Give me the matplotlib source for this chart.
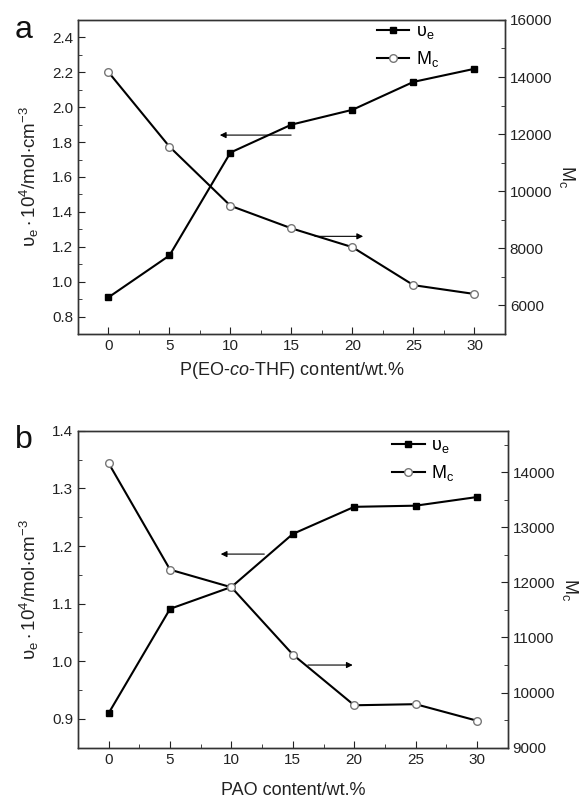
import numpy as np
import matplotlib
matplotlib.use('Agg')
import matplotlib.pyplot as plt
from matplotlib.ticker import MultipleLocator

plt.rcParams['font.family'] = ['Liberation Sans', 'DejaVu Sans']
plt.rcParams['mathtext.fontset'] = 'custom'
plt.rcParams['mathtext.rm'] = 'Liberation Sans'
plt.rcParams['mathtext.it'] = 'Liberation Sans:italic'
plt.rcParams['mathtext.default'] = 'regular'

# Data panel a: P(EO-co-THF) content
content = [0, 5, 10, 15, 20, 25, 30]
ve_a = [0.91, 1.15, 1.74, 1.90, 1.985, 2.145, 2.22]
mc_a = [14170, 11560, 9490, 8700, 8040, 6710, 6400]

# Data panel b: PAO content
ve_b = [0.91, 1.091, 1.129, 1.221, 1.268, 1.270, 1.285]
mc_b = [14160, 12230, 11910, 10690, 9770, 9790, 9490]

# arrows (start x, end x, y on own axis)
arrow_left_a = (15.2, 8.9, 1.84)
arrow_right_a = (16.7, 21.1, 8420)
arrow_left_b = (12.9, 8.9, 1.186)
arrow_right_b = (16.0, 20.1, 10500)

ylabel_left = r'$\upsilon_e\cdot10^4$/mol$\cdot$cm$^{-3}$'
ylabel_right = r'M$_c$'

fig = plt.figure(figsize=(5.85, 7.98), dpi=100)

def style(ax):
    ax.tick_params(direction='in', which='both', labelsize=11, colors='#222')
    ax.tick_params(which='major', length=5)
    ax.tick_params(which='minor', length=3)
    for s in ax.spines.values():
        s.set_linewidth(1.0)
        s.set_color('#333')

def panel(rect, ve, mc, xlabel, xpad, ylim_l, ylim_r, yl_major, yr_major, arrows,
          legend_anchor, letter, letter_y):
    ax = fig.add_axes(rect)
    ax2 = ax.twinx()
    l1, = ax.plot(content, ve, '-s', color='black', lw=1.5, ms=5, label=r'$\upsilon_e$', zorder=3)
    l2, = ax2.plot(content, mc, '-o', color='black', lw=1.5, ms=5.5, mfc='white',
                   mec='#777', mew=1.0, label=ylabel_right, zorder=3)
    ax.set_xlim(-2.5, 32.5)
    ax.set_ylim(*ylim_l)
    ax2.set_ylim(*ylim_r)
    ax.xaxis.set_major_locator(MultipleLocator(5))
    ax.xaxis.set_minor_locator(MultipleLocator(2.5))
    ax.yaxis.set_major_locator(MultipleLocator(yl_major))
    ax.yaxis.set_minor_locator(MultipleLocator(yl_major / 2))
    ax2.yaxis.set_major_locator(MultipleLocator(yr_major))
    ax2.yaxis.set_minor_locator(MultipleLocator(yr_major / 2))
    style(ax)
    style(ax2)
    ax.set_xlabel(xlabel, fontsize=13, color='#222', labelpad=xpad)
    ax.set_ylabel(ylabel_left, fontsize=13.5, color='#222', labelpad=8)
    ax2.set_ylabel(ylabel_right, fontsize=13, color='#222', rotation=270, labelpad=18)
    (x0, x1, y), (u0, u1, v) = arrows
    ax.annotate('', xy=(x1, y), xytext=(x0, y),
                arrowprops=dict(arrowstyle='-|>', color='black', lw=0.8, mutation_scale=9))
    ax2.annotate('', xy=(u1, v), xytext=(u0, v),
                 arrowprops=dict(arrowstyle='-|>', color='black', lw=0.8, mutation_scale=9))
    ax2.legend([l1, l2], [r'$\upsilon_e$', ylabel_right], loc='upper left',
               bbox_to_anchor=legend_anchor, frameon=False, fontsize=13,
               handlelength=1.8, handletextpad=0.35, labelspacing=0.45,
               borderpad=0, borderaxespad=0)
    fig.text(0.025, letter_y, letter, fontsize=23, color='#111',
             ha='left', va='center')
    return ax, ax2

panel([0.1333, 0.5815, 0.7299, 0.3935], ve_a, mc_a, 'P(EO-$\\it{co}$-THF) content/wt.%', 5,
      (0.7, 2.5), (5000, 16000), 0.2, 2000,
      (arrow_left_a, arrow_right_a), (0.70, 0.99), 'a', 1 - 30 / 798)
panel([0.1333, 0.0630, 0.7346, 0.3972], ve_b, mc_b, 'PAO content/wt.%', 11,
      (0.85, 1.4), (9000, 14750), 0.1, 1000,
      (arrow_left_b, arrow_right_b), (0.731, 0.98), 'b', 1 - 440 / 798)

fig.savefig('out.png', dpi=100)
